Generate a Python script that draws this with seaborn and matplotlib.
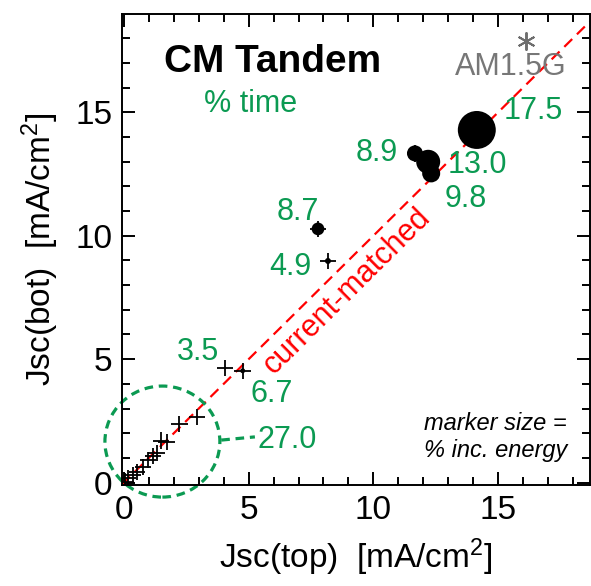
import matplotlib
matplotlib.use("Agg")
import matplotlib.pyplot as plt
from matplotlib.patches import Ellipse
from matplotlib.ticker import MultipleLocator
import seaborn as sns
import pandas as pd

# ---------------- data ----------------
jsc_top = [14.15, 12.20, 12.32, 11.67, 7.78, 8.18, 4.76, 4.05,
           2.92, 2.22, 1.71, 1.48, 1.31, 1.17, 0.97, 0.77, 0.53, 0.37, 0.17, 0.06]
jsc_bot = [14.29, 13.00, 12.53, 13.34, 10.28, 8.98, 4.53, 4.65,
           2.67, 2.36, 1.65, 1.70, 1.21, 1.07, 0.91, 0.64, 0.44, 0.30, 0.17, 0.04]
energy_pct = [29.9, 18.9, 14.2, 12.6, 10.0, 4.7, 3.9, 1.6,
              0.9, 0.7, 0.5, 0.5, 0.4, 0.35, 0.3, 0.25, 0.15, 0.1, 0.05, 0.02]
jsc_err = 0.33

time_labels = ["17.5", "13.0", "9.8", "8.9", "8.7", "4.9", "6.7", "3.5"]
cluster_time_label = "27.0"

am15g_top = [16.12]
am15g_bot = [17.90]

x_ticks = [0, 5, 10, 15]
y_ticks = [0, 5, 10, 15]

# ---------------- layout / style ----------------
GREEN = "#0b9a52"
label_xy = [(16.41, 14.73), (14.16, 12.55), (13.72, 11.17), (10.15, 13.03),
            (6.98, 10.64), (6.66, 8.41), (5.94, 3.26), (2.97, 4.97)]

sns.set_theme(style="ticks")
plt.rcParams["font.family"] = ["Liberation Sans", "DejaVu Sans"]
plt.rcParams["mathtext.fontset"] = "custom"
plt.rcParams["mathtext.rm"] = "Liberation Sans"
plt.rcParams["mathtext.it"] = "Liberation Sans:italic"
plt.rcParams["mathtext.bf"] = "Liberation Sans:bold"
plt.rcParams["text.color"] = "black"
plt.rcParams["axes.labelcolor"] = "black"

fig = plt.figure(figsize=(5.91, 5.86), dpi=100)
ax = fig.add_axes([122 / 591, 1 - 485 / 586, (590 - 122) / 591, (485 - 14) / 586])

df = pd.DataFrame({"jsc_top": jsc_top, "jsc_bot": jsc_bot, "energy": energy_pct})

# current-matched reference line
ax.axline((0, 0), slope=1, color="red", lw=1.6, dashes=(5, 3), zorder=1)

# crosshair error bars
ax.errorbar(df["jsc_top"], df["jsc_bot"], xerr=jsc_err, yerr=jsc_err, fmt="none",
            ecolor="black", elinewidth=1.3, capsize=0, zorder=2)

# markers, diameter proportional to % energy
size_map = {e: (0.914 * e) ** 2 for e in energy_pct}
sns.scatterplot(data=df, x="jsc_top", y="jsc_bot", size="energy", sizes=size_map,
                color="black", edgecolor="none", linewidth=0, legend=False, ax=ax, zorder=3)

# AM1.5G point
ax.plot(am15g_top, am15g_bot, marker=(6, 2, 0), ms=13, mew=1.4, color="#6e6e6e", ls="none")
ax.text(15.52, 16.52, "AM1.5G", color="#777777", fontsize=22, ha="center", va="baseline")

# labels
for (lx, ly), t in zip(label_xy, time_labels):
    ax.text(lx, ly, t, color=GREEN, fontsize=22, ha="center", va="baseline")

# dashed circle around low-light cluster
ax.add_patch(Ellipse((1.54, 1.66), width=4.61, height=4.5, fill=False,
                     edgecolor=GREEN, lw=2.3, linestyle=(0, (2.7, 1.8)), zorder=1,
                     clip_on=False))
ax.plot([3.9, 5.25], [1.72, 1.85], color=GREEN, lw=2.3, linestyle=(0, (2.7, 1.8)))
ax.text(6.54, 1.40, cluster_time_label, color=GREEN, fontsize=22, ha="center", va="baseline")

ax.text(5.94, 16.64, "CM Tandem", fontsize=28, fontweight="bold", color="black",
        ha="center", va="baseline")
ax.text(5.07, 15.02, "% time", color=GREEN, fontsize=22, ha="center", va="baseline")
ax.text(8.95, 7.75, "current-matched", color="red", fontsize=22, rotation=44.7,
        rotation_mode="anchor", ha="center", va="center")

ax.text(17.77, 2.13, "marker size =", fontsize=17, style="italic", color="black",
        ha="right", va="baseline")
ax.text(17.77, 1.03, "% inc. energy", fontsize=17, style="italic", color="black",
        ha="right", va="baseline")

# axes
ax.set_xlim(-0.08, 18.69)
ax.set_ylim(-0.10, 18.99)
ax.set_xticks(x_ticks)
ax.set_yticks(y_ticks)
ax.xaxis.set_minor_locator(MultipleLocator(1))
ax.yaxis.set_minor_locator(MultipleLocator(1))
ax.tick_params(which="both", direction="in", top=True, right=True, width=1.4,
               colors="black", labelsize=24)
ax.tick_params(which="major", length=9.5, pad=7)
ax.tick_params(which="minor", length=5.8)
for s in ax.spines.values():
    s.set_linewidth(1.4)
    s.set_color("black")

ax.set_xlabel(r"Jsc(top)  [mA/cm$^2$]", fontsize=24, labelpad=8)
ax.set_ylabel(r"Jsc(bot)  [mA/cm$^2$]", fontsize=24, labelpad=10)

fig.savefig("out.png", dpi=100)
